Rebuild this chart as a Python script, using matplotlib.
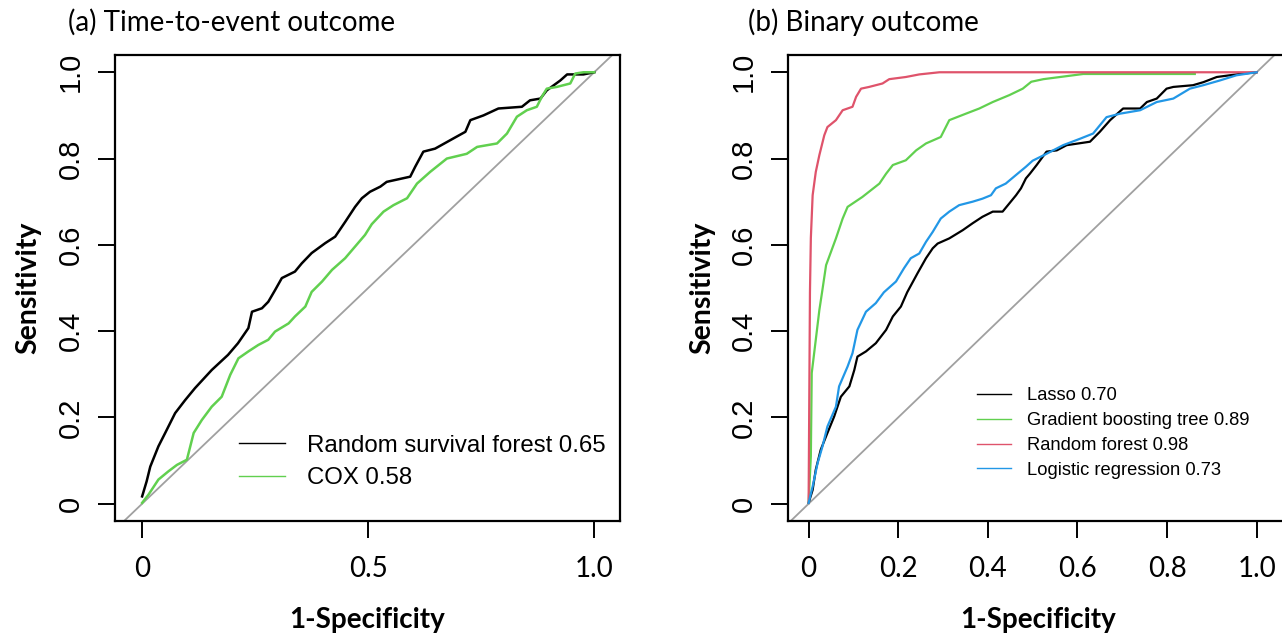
import numpy as np
import matplotlib.pyplot as plt

# ---- panel (a) time-to-event ROC curves ----
rsf_fpr = [0, 0.010, 0.018, 0.036, 0.051, 0.073, 0.095, 0.117, 0.154, 0.19, 0.212, 0.235, 0.243,
           0.265, 0.279, 0.294, 0.309, 0.338, 0.353, 0.375, 0.405, 0.427, 0.449, 0.471, 0.486,
           0.504, 0.527, 0.541, 0.593, 0.604, 0.622, 0.648, 0.696, 0.715, 0.726, 0.755, 0.788,
           0.84, 0.858, 0.881, 0.895, 0.925, 0.94, 0.976, 1.0]
rsf_tpr = [0.017, 0.052, 0.086, 0.133, 0.164, 0.21, 0.24, 0.268, 0.31, 0.345, 0.372, 0.407, 0.445,
           0.453, 0.468, 0.495, 0.523, 0.538, 0.557, 0.581, 0.604, 0.619, 0.653, 0.688, 0.708,
           0.723, 0.735, 0.746, 0.758, 0.781, 0.816, 0.823, 0.851, 0.862, 0.889, 0.900, 0.916,
           0.920, 0.935, 0.939, 0.958, 0.981, 0.995, 0.995, 1.0]
cox_fpr = [0, 0.014, 0.036, 0.058, 0.077, 0.099, 0.114, 0.132, 0.154, 0.176, 0.195, 0.213, 0.235,
           0.257, 0.279, 0.294, 0.324, 0.338, 0.361, 0.375, 0.398, 0.42, 0.449, 0.471, 0.493,
           0.508, 0.534, 0.556, 0.586, 0.608, 0.637, 0.674, 0.718, 0.741, 0.785, 0.807, 0.829,
           0.851, 0.873, 0.884, 0.895, 0.917, 0.947, 0.958, 0.976, 1.0]
cox_tpr = [0.002, 0.021, 0.056, 0.075, 0.09, 0.102, 0.164, 0.194, 0.225, 0.248, 0.299, 0.337, 0.353,
           0.368, 0.38, 0.399, 0.418, 0.434, 0.457, 0.491, 0.515, 0.542, 0.569, 0.596, 0.623,
           0.648, 0.677, 0.692, 0.708, 0.742, 0.769, 0.8, 0.811, 0.827, 0.835, 0.858, 0.897,
           0.912, 0.92, 0.943, 0.962, 0.966, 0.974, 0.997, 1.0, 1.0]

# ---- panel (b) binary outcome ROC curves ----
rf_fpr = [0, 0.003, 0.005, 0.009, 0.016, 0.024, 0.035, 0.042, 0.061, 0.076, 0.098, 0.106, 0.117,
          0.135, 0.165, 0.18, 0.217, 0.247, 0.292, 1.0]
rf_tpr = [0.002, 0.49, 0.616, 0.715, 0.769, 0.808, 0.854, 0.873, 0.889, 0.912, 0.92, 0.943, 0.962,
          0.966, 0.974, 0.984, 0.989, 0.995, 1.0, 1.0]
gbt_fpr = [0, 0.005, 0.007, 0.016, 0.024, 0.03, 0.039, 0.061, 0.076, 0.087, 0.12, 0.158, 0.173,
           0.188, 0.217, 0.24, 0.262, 0.295, 0.314, 0.351, 0.381, 0.411, 0.448, 0.478, 0.497,
           0.524, 0.576, 0.613, 0.862]
gbt_tpr = [0.002, 0.11, 0.303, 0.38, 0.449, 0.49, 0.553, 0.615, 0.661, 0.688, 0.711, 0.742, 0.765,
           0.785, 0.796, 0.819, 0.835, 0.85, 0.889, 0.904, 0.916, 0.931, 0.947, 0.962, 0.978,
           0.984, 0.991, 0.996, 0.996]
lr_fpr = [0, 0.009, 0.02, 0.031, 0.042, 0.061, 0.068, 0.087, 0.098, 0.109, 0.128, 0.15, 0.168,
          0.195, 0.213, 0.228, 0.247, 0.262, 0.277, 0.295, 0.314, 0.336, 0.366, 0.388, 0.407,
          0.418, 0.44, 0.463, 0.485, 0.5, 0.531, 0.568, 0.606, 0.635, 0.665, 0.695, 0.74,
          0.777, 0.814, 0.851, 0.881, 0.918, 0.955, 1.0]
lr_tpr = [0.002, 0.04, 0.094, 0.133, 0.179, 0.225, 0.272, 0.318, 0.349, 0.403, 0.445, 0.465, 0.49,
          0.515, 0.546, 0.569, 0.58, 0.607, 0.63, 0.661, 0.677, 0.692, 0.7, 0.707, 0.715,
          0.731, 0.742, 0.762, 0.781, 0.795, 0.811, 0.831, 0.846, 0.858, 0.896, 0.904, 0.912,
          0.931, 0.939, 0.962, 0.97, 0.981, 0.993, 1.0]
lasso_fpr = [0, 0.009, 0.016, 0.027, 0.042, 0.057, 0.072, 0.091, 0.102, 0.109, 0.128, 0.15, 0.173,
             0.188, 0.206, 0.22, 0.243, 0.262, 0.277, 0.288, 0.314, 0.344, 0.366, 0.388, 0.411,
             0.433, 0.448, 0.463, 0.474, 0.485, 0.494, 0.509, 0.531, 0.554, 0.576, 0.628, 0.65,
             0.673, 0.702, 0.74, 0.755, 0.777, 0.799, 0.814, 0.858, 0.881, 0.911, 0.94, 0.97, 1.0]
lasso_tpr = [0.002, 0.032, 0.079, 0.125, 0.164, 0.202, 0.248, 0.272, 0.31, 0.341, 0.353, 0.372, 0.403,
             0.434, 0.457, 0.49, 0.534, 0.569, 0.592, 0.603, 0.615, 0.634, 0.65, 0.665, 0.677,
             0.677, 0.696, 0.715, 0.731, 0.754, 0.765, 0.785, 0.816, 0.819, 0.831, 0.839, 0.862,
             0.889, 0.916, 0.916, 0.931, 0.939, 0.962, 0.966, 0.97, 0.977, 0.989, 0.993, 0.997, 1.0]

labels_a = ["Random survival forest 0.65", "COX 0.58"]
labels_b = ["Lasso 0.70", "Gradient boosting tree 0.89", "Random forest 0.98", "Logistic regression 0.73"]
yticks = [0, 0.2, 0.4, 0.6, 0.8, 1.0]
yticklabels = ["0", "0.2", "0.4", "0.6", "0.8", "1.0"]
xticks_a = [0, 0.5, 1.0]
xticklabels_a = ["0", "0.5", "1.0"]
xticks_b = [0, 0.2, 0.4, 0.6, 0.8, 1.0]
xticklabels_b = ["0", "0.2", "0.4", "0.6", "0.8", "1.0"]

BLACK, GREEN, RED, BLUE = "black", "#61D04F", "#DF536B", "#2297E6"
W, H = 1282, 635
cal = "Lato"  # stand-in for Calibri
ari = "Liberation Sans"

fig = plt.figure(figsize=(W / 100, H / 100), dpi=100)
ax1 = fig.add_axes([115 / W, (H - 521) / H, 505 / W, 466 / H])
ax2 = fig.add_axes([788 / W, (H - 521) / H, 500 / W, 466 / H])


def style(ax, xt, xtl, xlim, ylab_x):
    ax.set_xlim(*xlim)
    ax.set_ylim(-0.04, 1.04)
    ax.axline((0, 0), (1, 1), color="#A0A0A0", lw=1.3, zorder=1)
    for s in ax.spines.values():
        s.set_linewidth(1.6)
    ax.tick_params(length=12, width=1.4, direction="out")
    ax.tick_params(axis="x", pad=13)
    ax.tick_params(axis="y", pad=10)
    ax.set_xticks(xt)
    ax.set_xticklabels(xtl, fontfamily=cal, fontsize=20)
    ax.set_yticks(yticks)
    ax.set_yticklabels(yticklabels, fontfamily=ari, fontsize=21, rotation=90, va="center")
    ax.set_xlabel("1-Specificity", fontfamily=cal, fontweight="bold", fontsize=20, va="center")
    ax.xaxis.set_label_coords(0.5, -0.212)
    ax.set_ylabel("Sensitivity", fontfamily=cal, fontweight="bold", fontsize=20.5, va="center")
    ax.yaxis.set_label_coords(ylab_x, 0.5)


# panel (a)
style(ax1, xticks_a, xticklabels_a, (-0.06, 1.057), -0.172)
ax1.plot(rsf_fpr, rsf_tpr, color=BLACK, lw=1.8, label=labels_a[0])
ax1.plot(cox_fpr, cox_tpr, color=GREEN, lw=1.8, label=labels_a[1])
leg = ax1.legend(loc="upper left", bbox_to_anchor=(0.215, 0.16), bbox_transform=ax1.transData,
                 frameon=False, borderpad=0, borderaxespad=0, handlelength=1.9, handletextpad=0.9,
                 labelspacing=0.44, prop={"family": ari, "size": 17.3})
for h in leg.get_lines():
    h.set_linewidth(1.0)

# panel (b)
style(ax2, xticks_b, xticklabels_b, (-0.046, 1.07), -0.172)
ax2.plot(lasso_fpr, lasso_tpr, color=BLACK, lw=1.6, label=labels_b[0])
ax2.plot(gbt_fpr, gbt_tpr, color=GREEN, lw=1.6, label=labels_b[1])
ax2.plot(rf_fpr, rf_tpr, color=RED, lw=1.6, label=labels_b[2])
ax2.plot(lr_fpr, lr_tpr, color=BLUE, lw=1.6, label=labels_b[3])
leg = ax2.legend(loc="upper left", bbox_to_anchor=(0.376, 0.27), bbox_transform=ax2.transData,
                 frameon=False, borderpad=0, borderaxespad=0, handlelength=1.85, handletextpad=0.85,
                 labelspacing=0.43, prop={"family": ari, "size": 13.2})
for h in leg.get_lines():
    h.set_linewidth(1.0)

fig.text(68 / W, 1 - 22 / H, "(a) Time-to-event outcome", fontfamily=cal, fontsize=20, ha="left", va="center")
fig.text(748 / W, 1 - 22 / H, "(b) Binary outcome", fontfamily=cal, fontsize=20, ha="left", va="center")

fig.savefig("out.png", dpi=100)
